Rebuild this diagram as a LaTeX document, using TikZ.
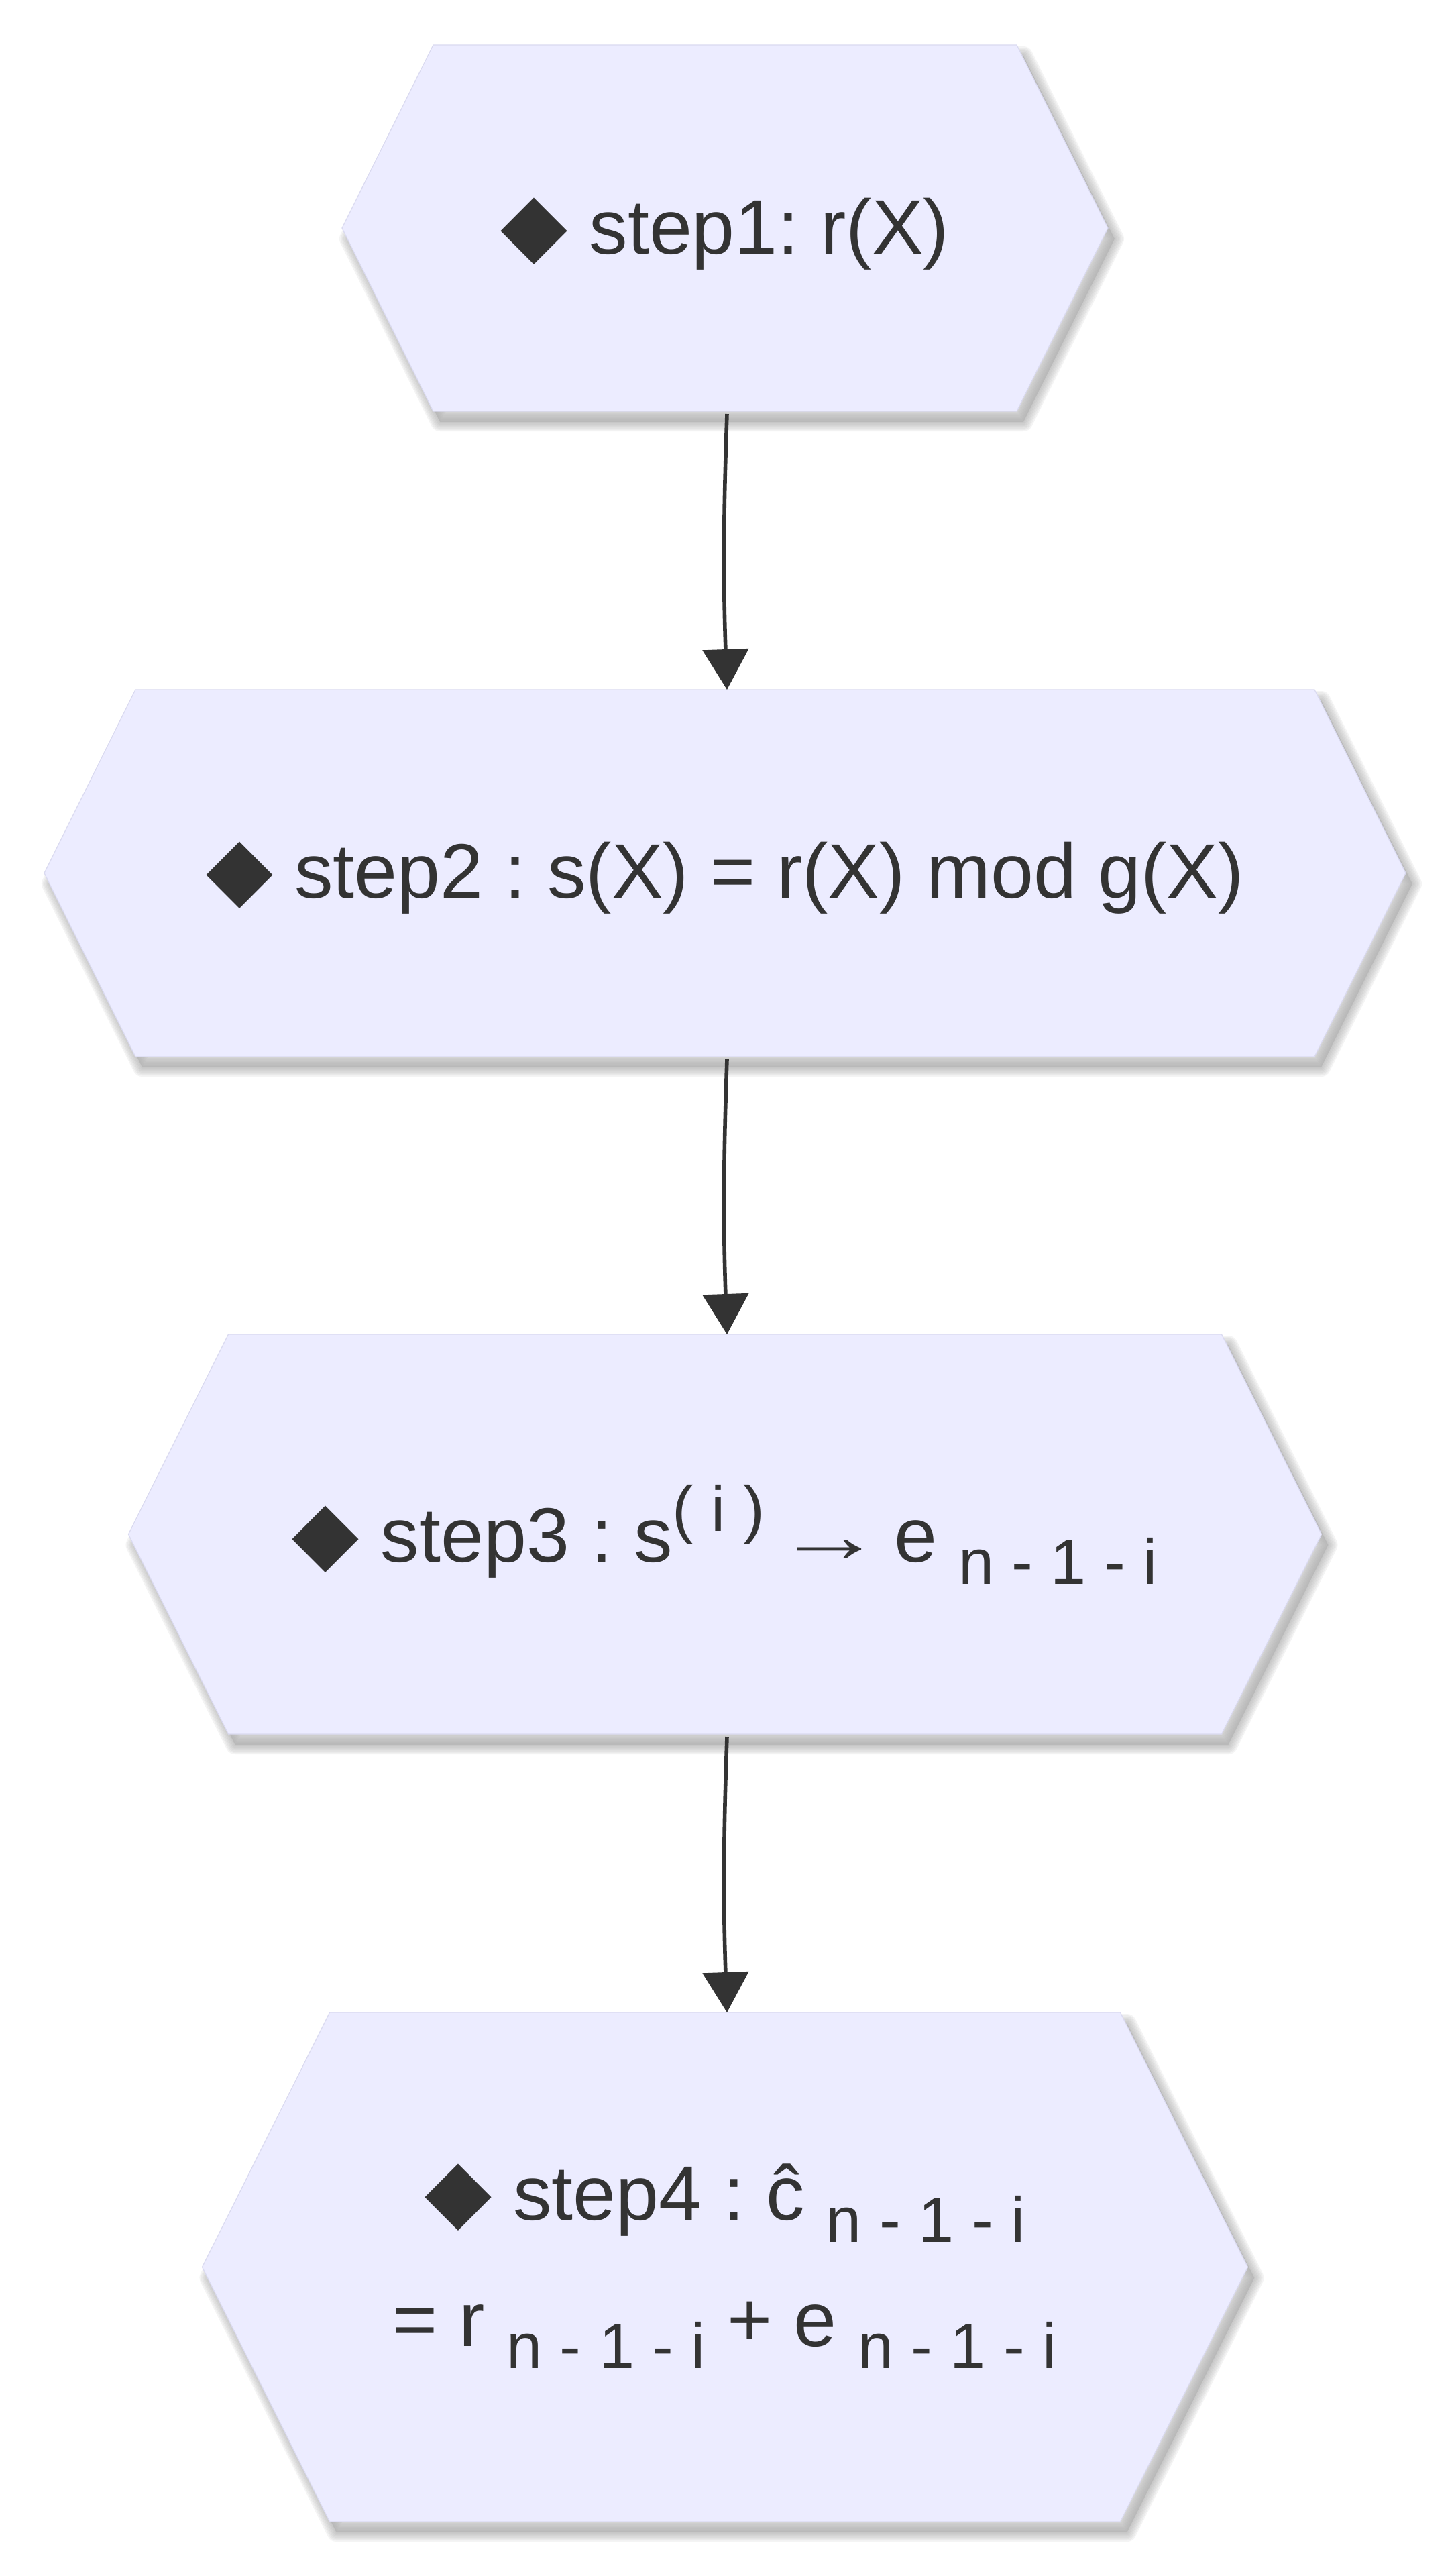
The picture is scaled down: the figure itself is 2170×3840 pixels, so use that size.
\documentclass[tikz,border=0pt]{standalone}
\usepackage{fontspec}
\setmainfont{Liberation Sans}
\newfontfamily\symfont{DejaVu Sans}
\newfontfamily\arrowfont{Liberation Serif}
\usetikzlibrary{arrows.meta,calc}
\definecolor{hexfill}{HTML}{ECECFF}
\definecolor{hexedge}{HTML}{DADAF0}
\definecolor{ink}{HTML}{333333}
\definecolor{shade}{RGB}{170,170,170}
\newcommand\dmd{{\symfont\fontsize{65}{65}\selectfont ◆}}
\newcommand\rarr{\hspace{-8pt}\scalebox{1.4}[1.0]{\arrowfont →}\hspace{-8pt}}
\newcommand\supx[1]{\raisebox{23pt}{\fontsize{47.7}{50}\selectfont #1}}
\newcommand\subx[1]{\raisebox{-16.5pt}{\fontsize{47.7}{50}\selectfont #1}}
\begin{document}
\begin{tikzpicture}[x=0.5pt,y=-0.5pt,
  hexbox/.style={rectangle, inner sep=0pt, outer sep=0pt},
  hexpath/.style n args={2}{insert path={(#1.north west) -- (#1.north east) -- ($(#1.east)+(#2,0)$) -- (#1.south east) -- (#1.south west) -- ($(#1.west)-(#2,0)$) -- cycle}},
  hexshadow/.style={transform canvas={xshift=5pt,yshift=-8pt}},
  lbl/.style={text=ink, font=\fontsize{57.5}{94}\selectfont\frenchspacing, inner sep=0pt, align=center},
  flow/.style={draw=ink, line width=2.8pt, -{Triangle[length=30pt,width=34pt]}}
]
\useasboundingbox[fill=white] (0,0) rectangle (2170,3840);

% hexagon frames (inner rectangles)
\node[hexbox, minimum width=435pt, minimum height=273pt] (h1) at (1081,340) {};
\node[hexbox, minimum width=879pt, minimum height=273.5pt] (h2) at (1081,1301.5) {};
\node[hexbox, minimum width=740.5pt, minimum height=298pt] (h3) at (1081,2287) {};
\node[hexbox, minimum width=589.5pt, minimum height=379.5pt] (h4) at (1081,3379.5) {};

% shadows
\foreach \n/\i in {h1/136,h2/136,h3/149,h4/190}{
  \begin{scope}[hexshadow]
    \foreach \w in {2,4,6,8,10,12,14}{
      \path[draw=shade, line width=\w pt, line join=round, opacity=0.12, hexpath={\n}{\i}];
    }
    \path[fill=shade, opacity=0.5, hexpath={\n}{\i}];
  \end{scope}
}
% hexagons
\foreach \n/\i in {h1/136,h2/136,h3/149,h4/190}{
  \path[fill=hexfill, draw=hexedge, line width=0.6pt, line join=miter, hexpath={\n}{\i}];
}

% labels
\node[lbl, anchor=base] (t1) at ($(h1.center)+(0,38)$) {\dmd{} step1: r(X)};
\node[lbl, anchor=base] (t2) at ($(h2.center)+(0,37)$) {\dmd{} step2 : s(X) = r(X) mod g(X)};
\node[lbl, anchor=base] (t3) at ($(h3.center)+(0,41)$) {\dmd{} step3 : s\supx{( i )} \rarr{} e \subx{n - 1 - i}};
\node[lbl, anchor=base] (t4) at ($(h4.center)+(0,118)$) {\dmd{} step4 : ĉ \subx{n - 1 - i}\\= r \subx{n - 1 - i} + e \subx{n - 1 - i}};

% connectors
\draw[flow] ([xshift=1.5pt,yshift=-2pt]h1.south) to[out=268,in=92] ([xshift=1.5pt]h2.north);
\draw[flow] ([xshift=1.5pt,yshift=-2pt]h2.south) to[out=268,in=92] ([xshift=1.5pt]h3.north);
\draw[flow] ([xshift=1.5pt,yshift=-2pt]h3.south) to[out=268,in=92] ([xshift=1.5pt]h4.north);
\end{tikzpicture}
\end{document}
